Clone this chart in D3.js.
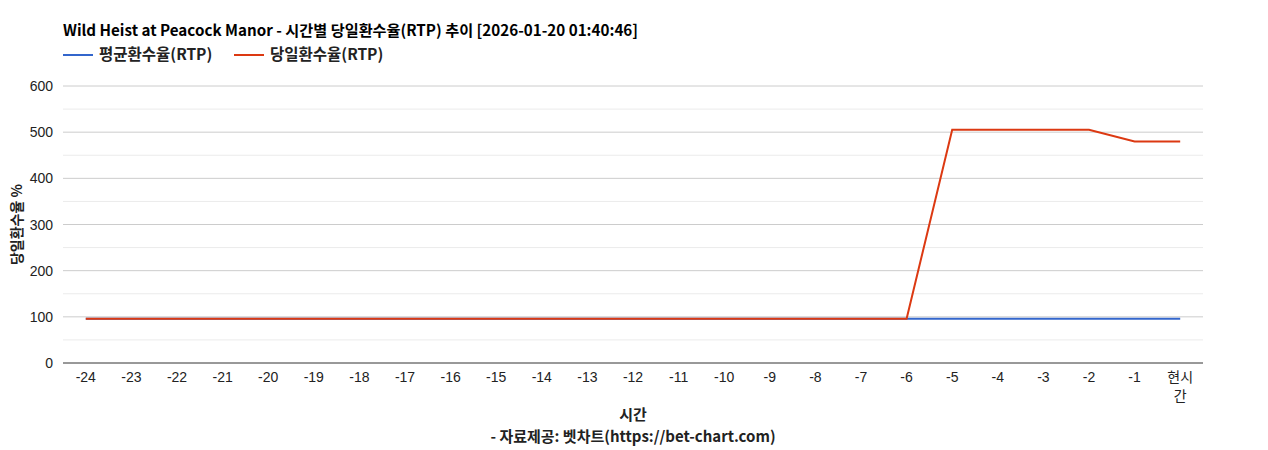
<!DOCTYPE html>
<html>
<head>
<meta charset="utf-8">
<script src="https://cdn.jsdelivr.net/npm/d3@7"></script>
<style>
  body { margin: 0; background: #fff; }
  svg { display: block; font-family: Arial, "Liberation Sans", "Noto Sans CJK KR", sans-serif; }
  .kr { font-family: "Noto Sans CJK KR", "Noto Sans", sans-serif; font-weight: bold; }
</style>
</head>
<body>
<svg id="chart" width="1268" height="450"></svg>
<script>
// ---- data ----
const hours = ['-24','-23','-22','-21','-20','-19','-18','-17','-16','-15','-14','-13','-12','-11','-10','-9','-8','-7','-6','-5','-4','-3','-2','-1','현시간'];
const avgRtp = [96,96,96,96,96,96,96,96,96,96,96,96,96,96,96,96,96,96,96,96,96,96,96,96,96];
const dayRtp = [96,96,96,96,96,96,96,96,96,96,96,96,96,96,96,96,96,96,96,505,505,505,505,480,480];
const yTicks = [0,100,200,300,400,500,600];
const yMinor = [50,150,250,350,450,550];
const seriesNames = ['평균환수율(RTP)', '당일환수율(RTP)'];
const seriesColors = ['#3366cc', '#dc3912'];

const titleText = 'Wild Heist at Peacock Manor - 시간별 당일환수율(RTP) 추이 [2026-01-20 01:40:46]';

const svg = d3.select('#chart');
const margin = { left: 63, right: 65, top: 86, bottom: 87 };
const W = 1268, H = 450;

const x = d3.scalePoint().domain(hours).range([margin.left, W - margin.right]).padding(0.5);
const y = d3.scaleLinear().domain([0, 600]).range([H - margin.bottom, margin.top]);

// minor grid
svg.append('g').selectAll('line').data(yMinor).join('line')
    .attr('x1', margin.left).attr('x2', W - margin.right)
    .attr('y1', d => y(d)).attr('y2', d => y(d))
    .attr('stroke', '#ebebeb').attr('stroke-width', 1);

// major grid + labels
const yg = svg.append('g');
yg.selectAll('line').data(yTicks.filter(d => d > 0)).join('line')
    .attr('x1', margin.left).attr('x2', W - margin.right)
    .attr('y1', d => y(d)).attr('y2', d => y(d))
    .attr('stroke', '#cccccc').attr('stroke-width', 1);
yg.selectAll('text').data(yTicks).join('text')
    .attr('x', margin.left - 10).attr('y', d => y(d) + 5)
    .attr('text-anchor', 'end').attr('font-size', 14).attr('fill', '#222')
    .text(d => d);

// x labels (현시간 wraps onto two lines)
const xl = svg.append('g');
xl.selectAll('text').data(hours).join('text')
    .attr('x', d => x(d)).attr('y', y(0) + 19)
    .attr('text-anchor', 'middle').attr('font-size', 14).attr('fill', '#222')
    .each(function(d) {
        const t = d3.select(this);
        if (isNaN(+d)) {
            t.append('tspan').attr('x', x(d)).text(d.slice(0, 2));
            t.append('tspan').attr('x', x(d)).attr('dy', 19).text(d.slice(2));
        } else {
            t.text(d);
        }
    });

// lines
const line = d3.line().x((d, i) => x(hours[i])).y(d => y(d));
[avgRtp, dayRtp].forEach((s, i) => {
    svg.append('path').datum(s)
        .attr('d', line)
        .attr('fill', 'none')
        .attr('stroke', seriesColors[i])
        .attr('stroke-width', 2);
});

// baseline
svg.append('line')
    .attr('x1', margin.left).attr('x2', W - margin.right)
    .attr('y1', y(0)).attr('y2', y(0))
    .attr('stroke', '#333').attr('stroke-width', 1);

// title
svg.append('text').attr('class', 'kr').attr('x', margin.left).attr('y', 36)
    .attr('font-size', 15.2).attr('fill', '#000')
    .text(titleText);

// legend
const legX = [63, 234];
seriesNames.forEach((n, i) => {
    const g = svg.append('g').attr('transform', `translate(${legX[i]},55)`);
    g.append('line').attr('x1', 0).attr('x2', 30).attr('y1', 0).attr('y2', 0)
        .attr('stroke', seriesColors[i]).attr('stroke-width', 2);
    g.append('text').attr('class', 'kr').attr('x', 36).attr('y', 5)
        .attr('font-size', 15.5).attr('fill', '#222')
        .text(n);
});

// axis titles
svg.append('text').attr('class', 'kr')
    .attr('transform', `translate(22,${(y(0) + y(600)) / 2}) rotate(-90)`)
    .attr('text-anchor', 'middle').attr('font-size', 14).attr('fill', '#222')
    .text('당일환수율 %');
svg.append('text').attr('class', 'kr').attr('x', 633).attr('y', 420)
    .attr('text-anchor', 'middle').attr('font-size', 15).attr('fill', '#222')
    .text('시간');
svg.append('text').attr('class', 'kr').attr('x', 633).attr('y', 442)
    .attr('text-anchor', 'middle').attr('font-size', 15).attr('fill', '#222')
    .text('- 자료제공: 벳차트(https://bet-chart.com)');
</script>
</body>
</html>
